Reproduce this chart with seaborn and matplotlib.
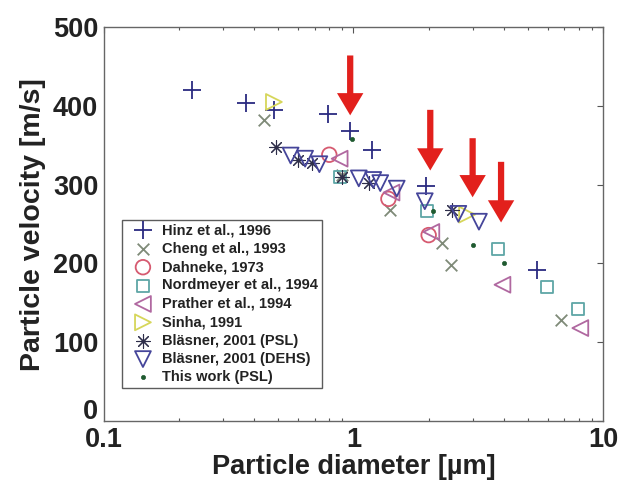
import numpy as np
import pandas as pd
import matplotlib
matplotlib.use("Agg")
import matplotlib.pyplot as plt
import matplotlib.transforms as mtransforms
import seaborn as sns

# ---- data ----
hinz_x = [0.225, 0.37, 0.48, 0.79, 0.97, 1.19, 1.95, 5.45]
hinz_y = [420, 404, 395, 390, 368, 344, 298, 192]

cheng_x = [0.44, 0.90, 1.40, 2.26, 2.45, 6.8]
cheng_y = [382, 312, 268, 226, 198, 128]

dahneke_x = [0.80, 1.38, 2.00]
dahneke_y = [338, 282, 236]

nord_x = [0.88, 1.97, 3.80, 5.95, 7.95]
nord_y = [310, 266, 218, 170, 142]

prather_x = [0.88, 1.42, 2.05, 3.95, 8.1]
prather_y = [333, 290, 240, 173, 118]

sinha_x = [0.48, 2.85]
sinha_y = [405, 262]

psl_x = [0.49, 0.60, 0.68, 0.90, 1.15, 2.47]
psl_y = [348, 331, 328, 310, 302, 268]

dehs_x = [0.56, 0.64, 0.73, 1.05, 1.20, 1.28, 1.49, 1.93, 2.63, 3.18]
dehs_y = [337, 333, 326, 308, 306, 302, 295, 279, 263, 253]

this_x = [0.99, 2.08, 3.00, 4.00]
this_y = [358, 266, 223, 200]

labels = ["Hinz et al., 1996", "Cheng et al., 1993", "Dahneke, 1973",
          "Nordmeyer et al., 1994", "Prather et al., 1994", "Sinha, 1991",
          "Bläsner, 2001 (PSL)", "Bläsner, 2001 (DEHS)", "This work (PSL)"]

arrow_x = [0.97, 2.03, 3.0, 3.9]
arrow_tail = [464, 395, 359, 329]
arrow_tip = [388, 318, 284, 252]

x_ticks = [0.1, 1, 10]
x_tick_labels = ["0.1", "1", "10"]
y_ticks = [0, 100, 200, 300, 400, 500]

# ---- styling ----
sns.set_theme(style="white")
plt.rcParams["font.family"] = ["Liberation Sans", "DejaVu Sans"]
plt.rcParams["font.weight"] = "bold"

series = [
    (hinz_x, hinz_y, "+", "#2a2a80", 150, False, 1.3),
    (cheng_x, cheng_y, "x", "#7f8a78", 70, False, 1.3),
    (dahneke_x, dahneke_y, "o", "#d65a70", 110, True, 1.3),
    (nord_x, nord_y, "s", "#5ea6a6", 75, True, 1.3),
    (prather_x, prather_y, "<", "#b068a0", 130, True, 1.3),
    (sinha_x, sinha_y, ">", "#d6d65a", 130, True, 1.3),
    (psl_x, psl_y, (8, 2, 0), "#2e2e4a", 95, False, 0.8),
    (dehs_x, dehs_y, "v", "#45459a", 130, True, 1.3),
    (this_x, this_y, "o", "#1f5a30", 9, False, 0.5),
]

fig = plt.figure(figsize=(6.18, 4.93), dpi=100)
ax = fig.add_axes([0.168, 0.146, 0.808, 0.799])

for (xs, ys, m, c, s, hollow, lw), lab in zip(series, labels):
    df = pd.DataFrame({"d": xs, "v": ys})
    kw = dict(data=df, x="d", y="v", marker=m, s=s, ax=ax, label=lab,
              linewidth=lw, legend=False)
    if hollow:
        kw.update(color=c, facecolor="none", edgecolor=c)
    elif lab.startswith("This"):
        kw.update(color=c, edgecolor=c)
    else:
        kw.update(color=c)
    sns.scatterplot(**kw)

for xa, yt, yp in zip(arrow_x, arrow_tail, arrow_tip):
    ax.annotate("", xy=(xa, yp), xytext=(xa, yt),
                arrowprops=dict(facecolor="#e2201c", edgecolor="none",
                                width=4.5, headwidth=19, headlength=16,
                                shrink=0))

ax.set_xscale("log")
ax.set_xlim(0.1, 10)
ax.set_ylim(0, 500)
ax.set_xticks(x_ticks)
ax.set_xticklabels(x_tick_labels)
ax.set_yticks(y_ticks)

ax.set_xlabel("Particle diameter [µm]", fontsize=19.5, fontweight="bold",
              color="#222222", labelpad=1)
ax.set_ylabel("Particle velocity [m/s]", fontsize=20.5, fontweight="bold",
              color="#222222", labelpad=5)

ax.tick_params(axis="both", which="major", direction="in", length=4,
               top=True, right=True, labelsize=19.5, colors="#555555",
               labelcolor="#222222", width=0.8, pad=4)
ax.tick_params(axis="x", which="minor", direction="in", length=2.5,
               top=True, bottom=True, colors="#555555", width=0.8)
for lab in ax.get_xticklabels() + ax.get_yticklabels():
    lab.set_fontweight("bold")
# the "0" label sits a little higher in the reference
zero_lab = ax.get_yticklabels()[0]
zero_lab.set_transform(zero_lab.get_transform() +
                       mtransforms.ScaledTranslation(0, 9 / 72, fig.dpi_scale_trans))
for sp in ax.spines.values():
    sp.set_color("#666666")
    sp.set_linewidth(1.0)

handles, labs = ax.get_legend_handles_labels()
leg = ax.legend(handles, labs, loc="lower left",
                bbox_to_anchor=(0.036, 0.084), frameon=True, fancybox=False,
                edgecolor="#333333", fontsize=10.5, handlelength=2.4,
                handletextpad=0.1, borderpad=0.25, labelspacing=0.3,
                borderaxespad=0)
leg.get_frame().set_linewidth(1.0)
for t in leg.get_texts():
    t.set_fontweight("bold")
    t.set_color("#222222")

fig.savefig("out.png", dpi=100)
